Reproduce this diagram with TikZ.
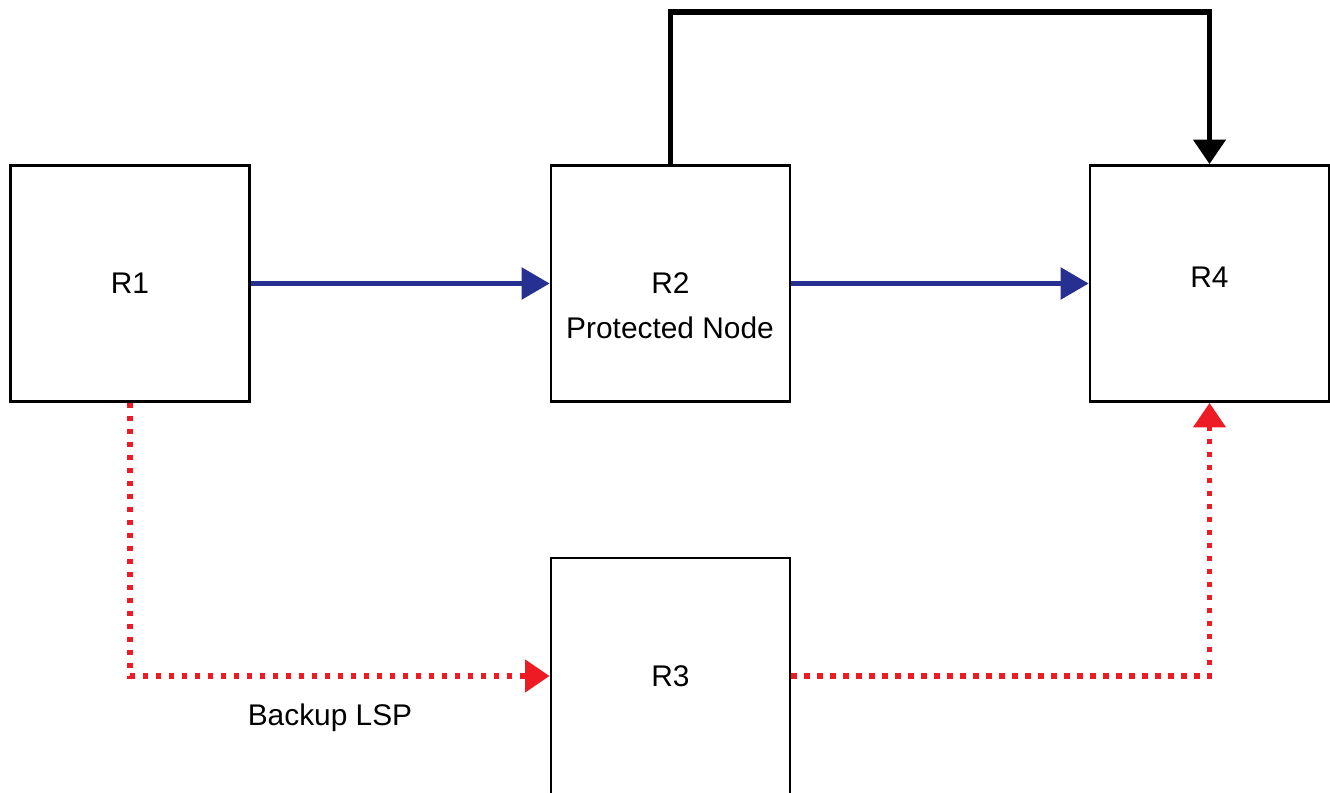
\documentclass[tikz,border=0pt]{standalone}
\usepackage{fontspec}
\setmainfont{Liberation Sans}
\usetikzlibrary{arrows.meta}
\definecolor{lspblue}{RGB}{38,48,145}
\definecolor{lspred}{RGB}{237,28,36}

\begin{document}
\begin{tikzpicture}[x=0.02cm, y=-0.02cm]
        \tikzset{routers/.style={draw, line width=1.6pt, minimum width=4.78cm, minimum height=4.72cm, inner sep=0pt, font=\fontsize{17}{20}\selectfont},
                 primary/.style={lspblue, line width=2.3pt, -{Triangle[length=16pt, width=18pt]}},
                 bypass/.style={line width=3.4pt, -{Triangle[length=14pt, width=18pt]}},
                 backup/.style={lspred, line width=3.3pt, dash pattern=on 3pt off 4.4pt, -{Triangle[length=14pt, width=18pt]}},
                 labels/.style={font=\fontsize{17}{20}\selectfont}}
        \useasboundingbox (0,0) rectangle (1330,793);
        \node [routers] (r1) at (130, 283.5){R1};
        \node [routers] (r2) at (670.5, 283.5){R2};
        \node [routers, text depth=0.24cm] (r4) at (1209.5, 283.5){R4};
        \node [routers] (r3) at (670.5, 676){R3};
        \node [labels]  (prot) at (670, 328){Protected Node};
        \node [labels]  (lsp)  at (330, 718){Backup LSP};
        \coordinate (top) at (940, 12);
        \draw [primary] (r1) -- (r2);
        \draw [primary] (r2) -- (r4);
        \draw [bypass]  (r2.north) |- (top) -| (r4.north);
        \draw [backup]  (r1.south) |- (r3.west);
        \draw [backup]  (r3.east) -| (r4.south);
    \end{tikzpicture}
\end{document}
